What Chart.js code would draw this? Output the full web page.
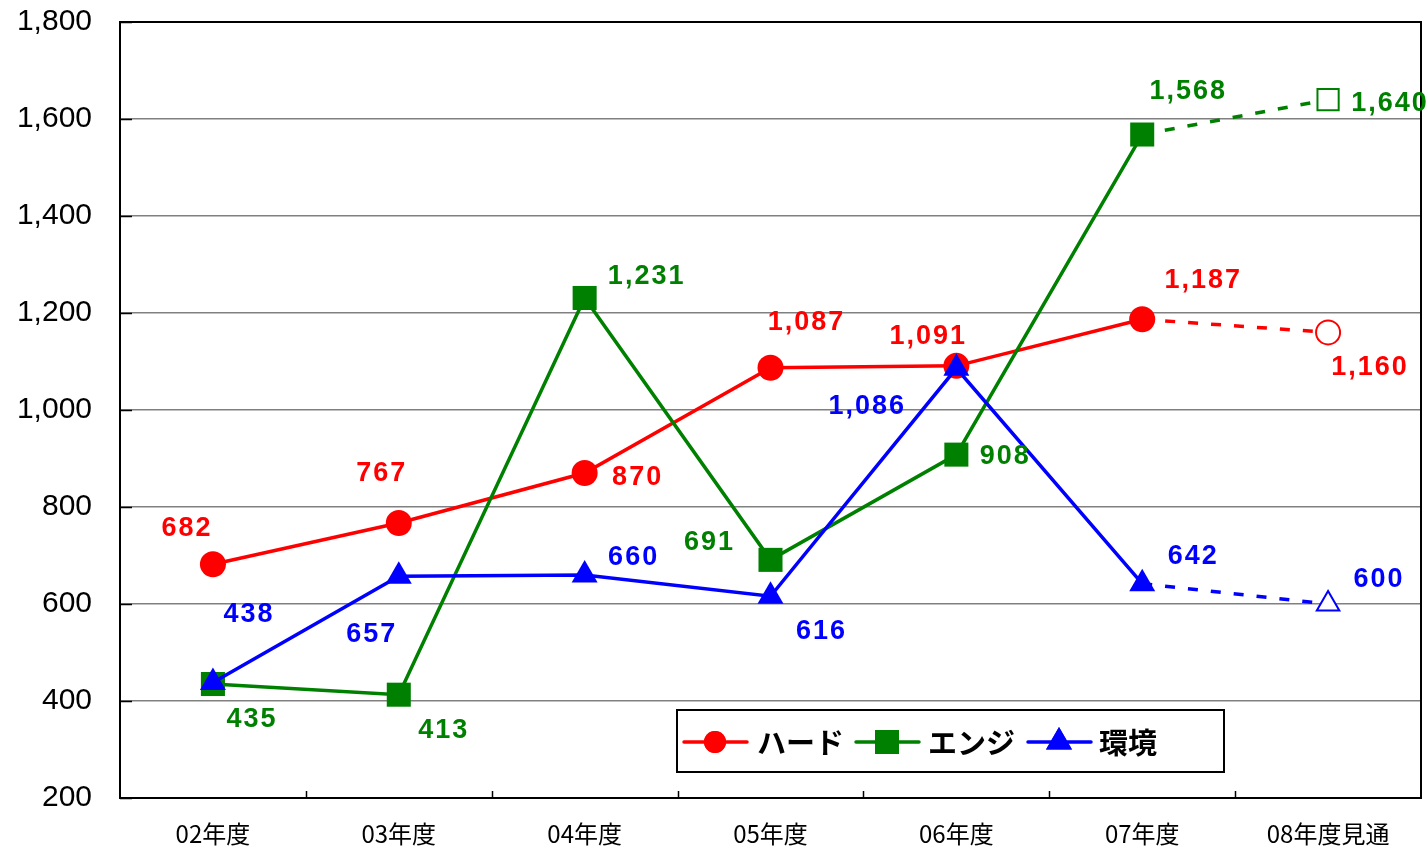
<!DOCTYPE html>
<html>
<head>
<meta charset="utf-8">
<script src="https://cdn.jsdelivr.net/npm/chart.js@4.4.1/dist/chart.umd.min.js"></script>
<style>
  html, body { margin: 0; padding: 0; background: #fff; overflow: hidden; }
  #wrap { width: 1440px; height: 846px; }
  canvas { display: block; }
</style>
</head>
<body>
<div id="wrap"><canvas id="salesChart" width="1440" height="846"></canvas></div>
<script>
const years = ["02年度", "03年度", "04年度", "05年度", "06年度", "07年度", "08年度見通"]
const hardValues = [682, 767, 870, 1087, 1091, 1187, 1160]
const engValues = [435, 413, 1231, 691, 908, 1568, 1640]
const envValues = [438, 657, 660, 616, 1086, 642, 600]
const seriesNames = ["ハード", "エンジ", "環境"]

// where each value label sits relative to its point (px)
const hardOffsets = [[-27, -36], [-18, -49], [52, 4], [35, -45], [-29, -29], [60, -39], [41, 35]]
const engOffsets = [[38, 36], [44, 36], [61, -21], [-62, -17], [48, 2], [45, -43], [61, 4]]
const envOffsets = [[35, -68], [-28, 58], [48, -17], [50, 35], [-90, 38], [50, -27], [50, -24]]

const lastIdx = years.length - 1

function series(label, values, color, style, radius, hollowRadius, order, offsets){
    return {
        label: label,
        data: values,
        borderColor: color,
        borderWidth: 3.5,
        pointStyle: style,
        pointRadius: values.map((v, i) => i == lastIdx ? hollowRadius : radius),
        pointBackgroundColor: values.map((v, i) => i == lastIdx ? "#fff" : color),
        pointBorderColor: color,
        pointBorderWidth: values.map((v, i) => i == lastIdx ? 2 : 0),
        pointHoverRadius: radius,
        tension: 0,
        order: order,
        labelOffsets: offsets,
        segment: {
            borderDash: ctx => ctx.p1DataIndex == lastIdx ? [10, 13] : undefined
        }
    }
}

const valueLabels = {
    id: "valueLabels",
    afterDatasetsDraw(chart) {
        const ctx = chart.ctx
        ctx.save()
        ctx.font = "bold 27px 'Liberation Sans', Arial, sans-serif"
        ctx.letterSpacing = "2px"
        ctx.textAlign = "center"
        ctx.textBaseline = "middle"
        chart.data.datasets.forEach((ds, di) => {
            const meta = chart.getDatasetMeta(di)
            ctx.fillStyle = ds.borderColor
            meta.data.forEach((pt, i) => {
                const off = ds.labelOffsets[i]
                ctx.fillText(ds.data[i].toLocaleString("en-US"), pt.x + off[0] + 1, pt.y + off[1])
            })
        })
        ctx.restore()
    }
}

// top/right frame, inside tick marks and the boxed legend
const frameAndLegend = {
    id: "frameAndLegend",
    beforeDatasetsDraw(chart) {
        const ctx = chart.ctx
        const a = chart.chartArea
        const y = chart.scales.y
        ctx.save()
        ctx.strokeStyle = "#000"
        ctx.lineWidth = 2
        ctx.beginPath()
        ctx.moveTo(a.left, a.top)
        ctx.lineTo(a.right, a.top)
        ctx.lineTo(a.right, a.bottom)
        ctx.stroke()
        // category boundary ticks
        ctx.lineWidth = 1.5
        const step = (a.right - a.left) / years.length
        for (let i = 1; i < years.length; i++) {
            const px = Math.round(a.left + step * i) + 0.5
            ctx.beginPath()
            ctx.moveTo(px, a.bottom)
            ctx.lineTo(px, a.bottom - 7)
            ctx.stroke()
        }
        // value ticks
        y.ticks.forEach(t => {
            const py = Math.round(y.getPixelForValue(t.value)) + 0.5
            ctx.beginPath()
            ctx.moveTo(a.left, py)
            ctx.lineTo(a.left + 12, py)
            ctx.stroke()
        })
        ctx.restore()
    },
    afterDraw(chart) {
        const ctx = chart.ctx
        ctx.save()
        const bx = 677, by = 710, bw = 547, bh = 62
        ctx.fillStyle = "#fff"
        ctx.fillRect(bx, by, bw, bh)
        ctx.strokeStyle = "#000"
        ctx.lineWidth = 2
        ctx.strokeRect(bx, by, bw, bh)
        const cy = by + bh / 2 + 1
        const items = [
            { x: 684, text: 757, ds: chart.data.datasets[0], r: 11 },
            { x: 856, text: 928, ds: chart.data.datasets[1], r: 17 },
            { x: 1028, text: 1099, ds: chart.data.datasets[2], r: 15 }
        ]
        items.forEach(it => {
            ctx.strokeStyle = it.ds.borderColor
            ctx.lineWidth = 3.5
            ctx.lineCap = "round"
            ctx.beginPath()
            ctx.moveTo(it.x, cy)
            ctx.lineTo(it.x + 63, cy)
            ctx.stroke()
            ctx.fillStyle = it.ds.borderColor
            Chart.helpers.drawPoint(ctx, { pointStyle: it.ds.pointStyle, radius: it.r, borderWidth: 0, rotation: 0 }, it.x + 31, cy)
            ctx.fill()
            ctx.fillStyle = "#000"
            ctx.font = "bold 29px 'Noto Sans CJK JP', sans-serif"
            ctx.letterSpacing = "0px"
            ctx.textAlign = "left"
            ctx.textBaseline = "middle"
            ctx.fillText(it.ds.label, it.text, cy + 1)
        })
        ctx.restore()
    }
}

const ctx = document.getElementById("salesChart").getContext("2d")
const chart = new Chart(ctx, {
    type: "line",
    data: {
        labels: years,
        datasets: [
            series(seriesNames[0], hardValues, "#ff0000", "circle", 13, 12, 3, hardOffsets),
            series(seriesNames[1], engValues, "#008000", "rect", 17, 15, 2, engOffsets),
            series(seriesNames[2], envValues, "#0000ff", "triangle", 15, 13, 1, envOffsets)
        ]
    },
    options: {
        responsive: false,
        animation: false,
        layout: { padding: { top: 22, right: 0, left: 0, bottom: 0 } },
        scales: {
            x: {
                offset: true,
                grid: { display: false, drawTicks: false },
                border: { color: "#000", width: 2 },
                ticks: {
                    color: "#000",
                    padding: 21,
                    font: { family: "'Noto Sans CJK JP', sans-serif", size: 24 }
                },
                afterFit(scale) {
                    scale.height = 48
                    scale.paddingLeft = 0
                    scale.paddingRight = 0
                }
            },
            y: {
                min: 200,
                max: 1800,
                ticks: {
                    stepSize: 200,
                    color: "#000",
                    padding: 28,
                    font: { family: "'Liberation Sans', Arial, sans-serif", size: 30 },
                    callback: v => v.toLocaleString("en-US")
                },
                grid: { color: "#808080", lineWidth: 1.5, drawTicks: false },
                border: { color: "#000", width: 2 },
                afterFit(scale) {
                    scale.width = 120
                    scale.paddingTop = 0
                    scale.paddingBottom = 0
                }
            }
        },
        plugins: {
            legend: { display: false },
            tooltip: { enabled: false }
        }
    },
    plugins: [frameAndLegend, valueLabels]
})
</script>
</body>
</html>
